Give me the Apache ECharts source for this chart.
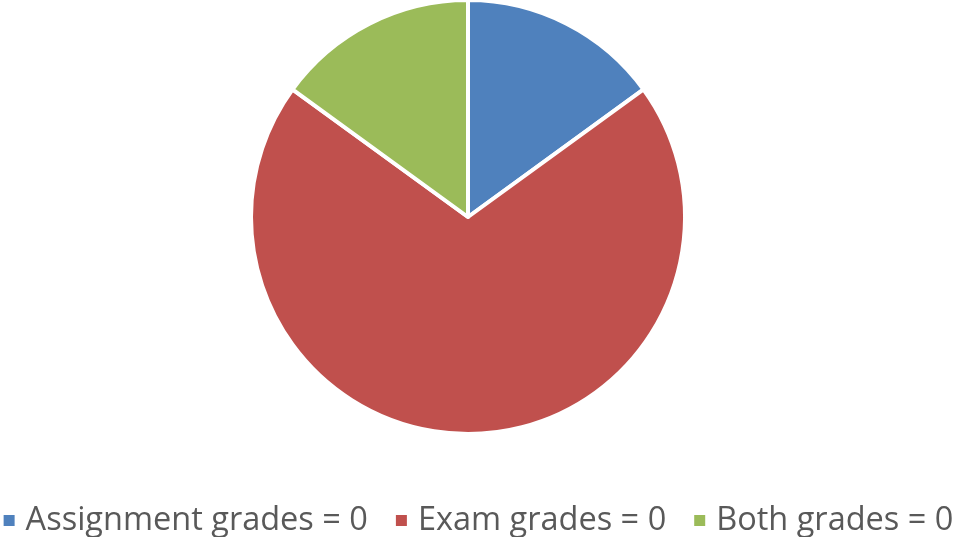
<!DOCTYPE html>
<html>
<head>
<meta charset="utf-8">
<script src="https://cdn.jsdelivr.net/npm/echarts@6/dist/echarts.min.js"></script>
<style>
  html, body { margin: 0; padding: 0; background: #fff; }
  #chart { width: 955px; height: 537px; }
</style>
</head>
<body>
<div id="chart"></div>
<script>
var categories = ['Assignment grades = 0', 'Exam grades = 0', 'Both grades = 0'];
var values = [15, 70, 15];
var colors = ['#4F81BD', '#C0504D', '#9BBB59'];

var pieData = categories.map(function (name, i) {
    return { name: name, value: values[i], itemStyle: { color: colors[i] } };
});

var chart = echarts.init(document.getElementById('chart'));
chart.setOption({
    animation: false,
    legend: {
        top: 504,
        left: 'center',
        padding: 0,
        itemWidth: 13,
        itemHeight: 13,
        itemGap: 26,
        icon: 'rect',
        textStyle: {
            fontFamily: 'Open Sans',
            fontSize: 32.5,
            color: '#595959',
            padding: [0, 0, 0, 5]
        },
        data: categories
    },
    series: [
        {
            type: 'pie',
            center: [468, 217],
            radius: 217,
            startAngle: 90,
            clockwise: true,
            label: { show: false },
            labelLine: { show: false },
            itemStyle: {
                borderColor: '#fff',
                borderWidth: 4
            },
            data: pieData
        }
    ]
});
</script>
</body>
</html>
